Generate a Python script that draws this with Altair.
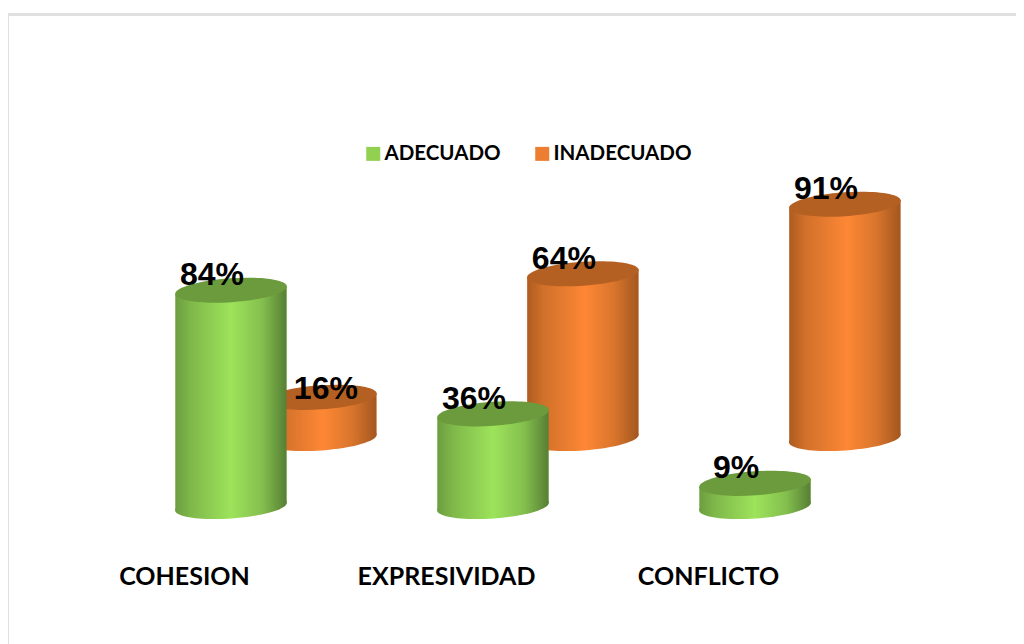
import json
import altair as alt
import pandas as pd

categories = ["COHESION", "EXPRESIVIDAD", "CONFLICTO"]
adecuado = [84, 36, 9]
inadecuado = [16, 64, 91]
series_names = ["ADECUADO", "INADECUADO"]

legend_colors = ["#92d050", "#ed7d31"]
top_colors = {"ADECUADO": "#6b9b3c", "INADECUADO": "#b56023"}

# chart depth of the pseudo 3D scene
DEPTH_X = 0.343   # back row shift, in category steps
DEPTH_Y = 26.4    # back row lift, in percent units
HALF_W = 0.212    # cylinder half width, in category steps
TILT = 1.55       # ellipse tilt, in percent units

ELLIPSE = "M-0.9976,0.0698A1,0.214,-4,1,1,0.9976,-0.0698A1,0.214,-4,1,1,-0.9976,0.0698Z"
ELLIPSE_SIZE = 12544


def grad(stops):
    return alt.LinearGradient(
        gradient="linear", x1=0, x2=1, y1=0, y2=0,
        stops=[alt.GradientStop(offset=o, color=c) for o, c in stops],
    )


GRADS = {
    "ADECUADO": grad([(0, "#6c9d40"), (0.14, "#7fb84a"), (0.5, "#9de35b"),
                      (0.78, "#84bf4e"), (1, "#577f34")]),
    "INADECUADO": grad([(0, "#ad5c21"), (0.14, "#d0702a"), (0.52, "#fe8735"),
                        (0.78, "#d9752c"), (1, "#a35720")]),
}

rows, points = [], []
for s, vals in zip(series_names, [adecuado, inadecuado]):
    back = s == "INADECUADO"
    for i, (c, v) in enumerate(zip(categories, vals)):
        xc = i + (DEPTH_X if back else 0)
        base = DEPTH_Y if back else 0
        points.append(dict(series=s, cat=c, value=v, x=xc, top=base + v, bottom=base,
                           label=f"{v}%"))
        for side, tilt in ((-1, -TILT), (1, TILT)):
            rows.append(dict(series=s, cat=c, x=xc + side * HALF_W,
                             top=base + v + tilt, bottom=base + tilt))
areas = pd.DataFrame(rows)
pts = pd.DataFrame(points)

W, H = 1008, 498.5
xs = alt.Scale(domain=[-0.851, 2.996], nice=False, zero=False)
ys = alt.Scale(domain=[0, 193.6], nice=False)
X = alt.X("x:Q", scale=xs, axis=alt.Axis(
    values=[0, 1, 2], labelExpr=f"{json.dumps(categories)}[datum.value]",
    labelFont="Lato", labelFontWeight="bold", labelFontSize=25, labelColor="black",
    labelOffset=-47, labelPadding=69.5, labelBaseline="middle",
    domain=False, ticks=False, grid=False, title=None, labelFlush=False, labelOverlap=False))
Y = alt.Y("top:Q", scale=ys, axis=None)
Y2 = alt.Y2("bottom:Q")

solid = alt.Chart(areas).mark_area().encode(
    x=X, y=Y, y2=Y2, detail="key:N",
    color=alt.Color("series:N", scale=alt.Scale(domain=series_names, range=legend_colors),
                    legend=alt.Legend(orient="none", legendX=355, legendY=135.5, title=None,
                                      direction="horizontal", columns=2, symbolType="square",
                                      symbolSize=196, symbolStrokeWidth=0, symbolOffset=0,
                                      labelFont="Lato", labelFontWeight="bold", labelFontSize=20.5,
                                      labelColor="black", labelLimit=300, columnPadding=31,
                                      labelOffset=1)),
).transform_calculate(key="datum.series + datum.cat")


def cylinder_layers(s):
    a = alt.Chart(areas[areas.series == s]).mark_area(color=GRADS[s]).encode(
        x=X, y=Y, y2=Y2, detail="cat:N")
    p = pts[pts.series == s]
    bottom = alt.Chart(p).mark_point(shape=ELLIPSE, size=ELLIPSE_SIZE, filled=True, opacity=1,
                                     strokeWidth=0, color=GRADS[s]).encode(
        x=X, y=alt.Y("bottom:Q", scale=ys, axis=None))
    top = alt.Chart(p).mark_point(shape=ELLIPSE, size=ELLIPSE_SIZE, filled=True, opacity=1,
                                  strokeWidth=0, color=top_colors[s]).encode(x=X, y=Y)
    return [bottom, a, top]


label_font = dict(font="Liberation Sans", fontWeight="bold", fontSize=32, color="black")
labels = alt.Chart(pts[pts.label != "16%"]).mark_text(dx=-19, dy=-15, **label_font).encode(
    x=X, y=Y, text="label:N")
label16 = alt.Chart(pts[pts.label == "16%"]).mark_text(dx=5, dy=-8, **label_font).encode(
    x=X, y=Y, text="label:N")

frame_top = alt.Chart(pts).mark_rule(color="#e0e0e0", strokeWidth=2.4).encode(
    x=alt.value(0), x2=alt.value(W), y=alt.value(6.3))
frame_left = alt.Chart(pts).mark_rule(color="#e0e0e0", strokeWidth=2).encode(
    x=alt.value(0), y=alt.value(5), y2=alt.value(636))

chart = alt.layer(
    frame_top, frame_left, solid,
    *cylinder_layers("INADECUADO"), *cylinder_layers("ADECUADO"),
    labels, label16,
).properties(
    width=W, height=H, background="white",
    autosize="none", padding={"left": 0, "top": 0, "right": 0, "bottom": 137.5},
).configure_view(stroke=None)

chart.save("out.html", embed_options={"renderer": "svg", "actions": False})
